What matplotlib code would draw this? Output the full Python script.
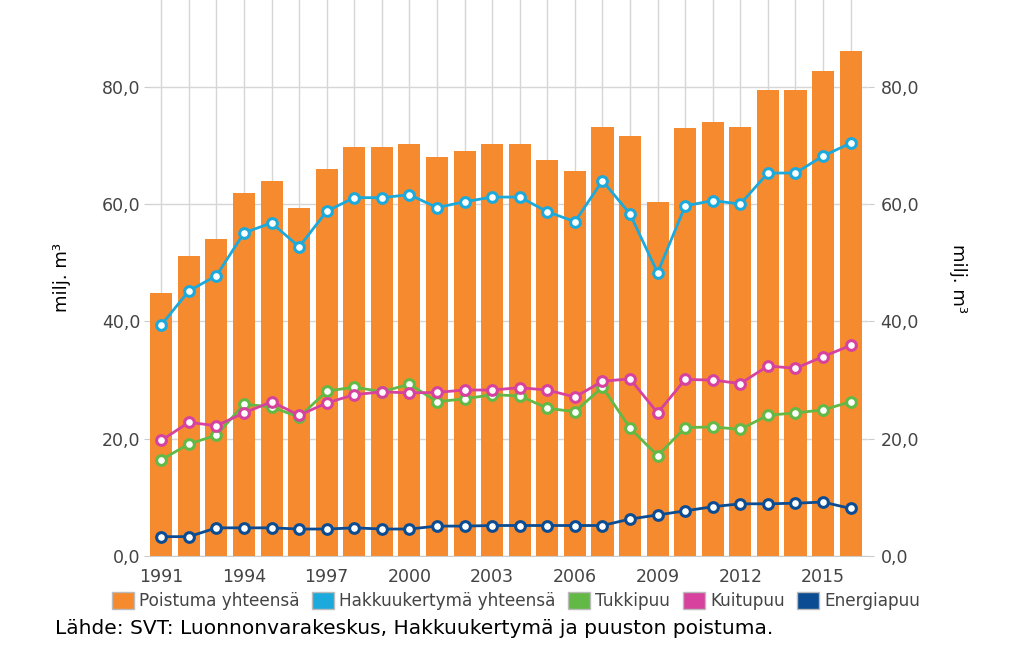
import matplotlib
matplotlib.use("Agg")
import matplotlib.pyplot as plt
from matplotlib.patches import Patch

plt.rcParams['font.family'] = ['DejaVu Sans']

vuodet = list(range(1991, 2017))
poistuma = [44.9, 51.2, 54.1, 61.9, 64.0, 59.4, 66.0, 69.8, 69.8, 70.3, 68.1, 69.1, 70.3,
            70.3, 67.5, 65.7, 73.2, 71.6, 60.4, 73.0, 74.0, 73.2, 79.5, 79.5, 82.7, 86.1]
hakkuukertyma = [39.4, 45.2, 47.8, 55.1, 56.8, 52.7, 58.8, 61.1, 61.1, 61.6, 59.4, 60.4, 61.2,
                 61.2, 58.7, 57.0, 64.0, 58.3, 48.3, 59.7, 60.6, 60.0, 65.3, 65.3, 68.2, 70.4]
tukkipuu = [16.4, 19.1, 20.6, 25.9, 25.4, 23.7, 28.1, 28.8, 28.0, 29.3, 26.3, 26.8, 27.5,
            27.3, 25.2, 24.6, 28.8, 21.8, 17.1, 21.9, 22.0, 21.6, 24.0, 24.4, 24.9, 26.3]
kuitupuu = [19.7, 22.8, 22.2, 24.4, 26.3, 24.0, 26.1, 27.5, 28.0, 27.8, 27.9, 28.3, 28.3,
            28.7, 28.3, 27.1, 29.8, 30.2, 24.4, 30.1, 30.0, 29.4, 32.4, 32.0, 34.0, 35.9]
energiapuu = [3.3, 3.3, 4.8, 4.8, 4.8, 4.6, 4.6, 4.8, 4.6, 4.6, 5.1, 5.1, 5.2,
              5.2, 5.2, 5.2, 5.2, 6.3, 7.0, 7.7, 8.4, 8.9, 8.9, 9.0, 9.2, 8.1]

c_poistuma = "#F58A2E"
c_hakkuu = "#1CA9DC"
c_tukki = "#62B946"
c_kuitu = "#D6429E"
c_energia = "#0B4C93"
tekstivari = "#444444"

fig = plt.figure(figsize=(10.24, 6.5), dpi=100)
ax = fig.add_axes([150 / 1024, 94 / 650, 718 / 1024, 556 / 650])

ax.bar(vuodet, poistuma, width=0.8, color=c_poistuma, zorder=2)

sarjat = [(hakkuukertyma, c_hakkuu), (tukkipuu, c_tukki), (kuitupuu, c_kuitu), (energiapuu, c_energia)]
for arvot, vari in sarjat:
    ax.plot(vuodet, arvot, color=vari, lw=2, marker="o", ms=7, mfc="white",
            mec=vari, mew=2.2, zorder=3)

ax.set_xlim(1990.59, 2016.63)
ax.set_ylim(0, 94.8)
ax.set_xticks(vuodet)
ax.set_xticklabels([str(v) if (v - 1991) % 3 == 0 else "" for v in vuodet])
yt = [0, 20, 40, 60, 80]
ax.set_yticks(yt)
ax.set_yticklabels([f"{v:.1f}".replace(".", ",") for v in yt])
ax.grid(True, color="#d6d6d6", lw=1, zorder=0)
ax.set_axisbelow(True)
for s in ["top", "left", "right"]:
    ax.spines[s].set_visible(False)
ax.spines["bottom"].set_color("#cccccc")
ax.tick_params(axis="y", length=4, color="#cccccc", labelsize=12.5, labelcolor=tekstivari, pad=3)
ax.tick_params(axis="x", length=0, labelsize=12.5, labelcolor=tekstivari, pad=9)
ax.set_ylabel("milj. m³", fontsize=13, color="black")
ax.yaxis.set_label_coords(-0.11, 0.5)

ax2 = ax.twinx()
ax2.set_ylim(ax.get_ylim())
ax2.set_yticks(yt)
ax2.set_yticklabels([f"{v:.1f}".replace(".", ",") for v in yt])
for s in ["top", "left", "right", "bottom"]:
    ax2.spines[s].set_visible(False)
ax2.tick_params(axis="y", length=4, color="#cccccc", labelsize=12.5, labelcolor=tekstivari, pad=5)
ax2.set_ylabel("milj. m³", fontsize=13, color="black", rotation=270, va="center")
ax2.yaxis.set_label_coords(1.126, 0.5)

kasittelyt = [Patch(facecolor=v, edgecolor="#bbbbbb", lw=1) for v in
              [c_poistuma, c_hakkuu, c_tukki, c_kuitu, c_energia]]
nimet = ["Poistuma yhteensä", "Hakkuukertymä yhteensä", "Tukkipuu", "Kuitupuu", "Energiapuu"]
fig.legend(kasittelyt, nimet, loc="center", bbox_to_anchor=(516 / 1024, 1 - 601 / 650),
           ncol=5, frameon=False, fontsize=12.2, handlelength=1.3, handleheight=1.2,
           handletextpad=0.3, columnspacing=0.75, labelcolor=tekstivari, borderpad=0)

fig.text(55 / 1024, 1 - 628 / 650, "Lähde: SVT: Luonnonvarakeskus, Hakkuukertymä ja puuston poistuma.",
         fontsize=14.5, color="black", va="center", ha="left")

fig.savefig("out.png", dpi=100)
